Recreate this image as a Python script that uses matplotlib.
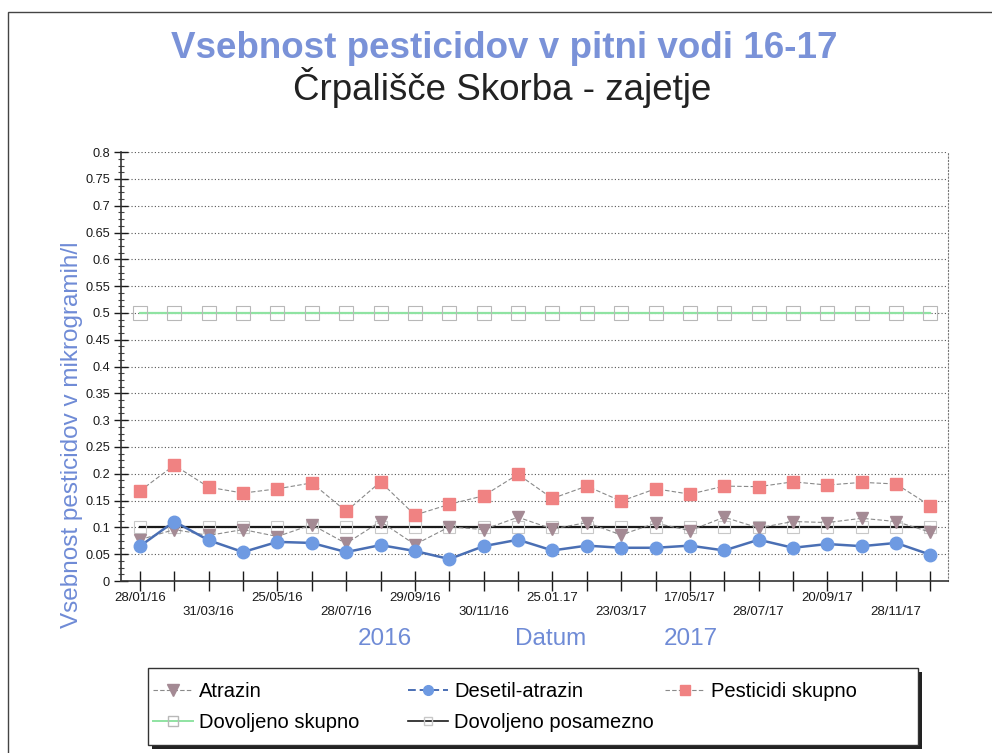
import matplotlib
matplotlib.use("Agg")
import matplotlib.pyplot as plt
from matplotlib.patches import Rectangle
from matplotlib.lines import Line2D
from matplotlib.ticker import MultipleLocator

plt.rcParams['font.family'] = ['Liberation Sans', 'DejaVu Sans']

# sampling dates (every other one is labelled on the axis)
tick_labels = ['28/01/16', '31/03/16', '25/05/16', '28/07/16', '29/09/16', '30/11/16',
               '25.01.17', '23/03/17', '17/05/17', '28/07/17', '20/09/17', '28/11/17']

atrazin = [0.077, 0.096, 0.085, 0.096, 0.083, 0.105, 0.070, 0.111, 0.068, 0.101, 0.096, 0.119,
           0.097, 0.109, 0.086, 0.108, 0.094, 0.119, 0.099, 0.111, 0.109, 0.117, 0.111, 0.091]
desetil = [0.065, 0.111, 0.076, 0.054, 0.073, 0.071, 0.054, 0.067, 0.056, 0.041, 0.065, 0.077,
           0.057, 0.066, 0.062, 0.062, 0.066, 0.057, 0.077, 0.062, 0.069, 0.065, 0.071, 0.049]
skupno = [0.168, 0.216, 0.175, 0.164, 0.172, 0.183, 0.130, 0.185, 0.123, 0.143, 0.159, 0.199,
          0.154, 0.177, 0.149, 0.172, 0.162, 0.177, 0.176, 0.185, 0.179, 0.184, 0.181, 0.140]
dov_skupno = [0.5] * 24
dov_posamezno = [0.1] * 24

x = list(range(len(atrazin)))
blue_txt = '#6f8bd6'

fig = plt.figure(figsize=(9.92, 7.53), dpi=100)
ax = fig.add_axes([0.122, 0.2284, 0.834, 0.5696])

# dotted grid drawn first so the series sit on top
for v in [i * 0.05 for i in range(1, 17)]:
    ax.axhline(v, color='#555555', lw=0.8, ls=(0, (1, 2)), zorder=0)

ax.plot(x, dov_skupno, color='#8fe3a2', lw=1.6, marker='s', ms=10, mfc='none',
        mec='#b8b8b8', mew=0.8, zorder=2)
ax.plot(x, dov_posamezno, color='#1a1a1a', lw=1.6, marker='s', ms=8, mfc='none',
        mec='#c8c8c8', mew=0.8, zorder=2)
ax.plot(x, atrazin, color='#8a8a8a', lw=0.8, ls=(0, (4, 2)), marker='v', ms=9,
        mfc='#a48a94', mec='#a48a94', zorder=3)
ax.plot(x, skupno, color='#8a8a8a', lw=0.8, ls=(0, (4, 2)), marker='s', ms=9,
        mfc='#f08282', mec='#f08282', zorder=3)
ax.plot(x, desetil, color='#4a6fb4', lw=1.8, marker='o', ms=9,
        mfc='#6e9ae2', mec='#6e9ae2', zorder=4)

ax.set_xlim(-0.55, 23.52)
ax.set_ylim(0, 0.8)
ax.yaxis.set_major_locator(MultipleLocator(0.05))
ax.yaxis.set_minor_locator(MultipleLocator(0.0125))
ax.yaxis.set_major_formatter(plt.FuncFormatter(lambda v, p: '%g' % round(v, 2)))

ax.set_xticks(x)
labs = []
for i in x:
    if i % 2:
        labs.append('')
    else:
        k = i // 2
        labs.append(tick_labels[k] if k % 2 == 0 else '\n' + tick_labels[k])
ax.set_xticklabels(labs)

ax.tick_params(axis='x', direction='inout', length=14, width=1.0, labelsize=9.5,
               colors='#1a1a1a', pad=1)
ax.tick_params(axis='y', which='major', direction='inout', length=10, width=1.0,
               labelsize=9.2, colors='#1a1a1a', pad=3)
ax.tick_params(axis='y', which='minor', direction='inout', length=5, width=0.8,
               colors='#444444')

ax.spines['top'].set_visible(False)
ax.spines['right'].set_linestyle((0, (1, 2)))
ax.spines['right'].set_color('#777777')
ax.spines['left'].set_color('#333333')
ax.spines['bottom'].set_color('#333333')
ax.spines['left'].set_linewidth(1.2)
ax.spines['bottom'].set_linewidth(1.2)

# titles
fig.text(0.508, 0.923, 'Vsebnost pesticidov v pitni vodi 16-17', ha='center', va='baseline',
         fontsize=26.5, fontweight='bold', color='#7a92d8')
fig.text(0.506, 0.867, 'Črpališče Skorba - zajetje', ha='center', va='baseline',
         fontsize=26.5, color='#222222')

fig.text(0.073, 0.422, 'Vsebnost pesticidov v mikrogramih/l', rotation=90, ha='center',
         va='center', fontsize=17.5, color=blue_txt)
fig.text(0.388, 0.144, '2016', ha='center', va='baseline', fontsize=17.5, color=blue_txt)
fig.text(0.555, 0.144, 'Datum', ha='center', va='baseline', fontsize=17.5, color=blue_txt)
fig.text(0.696, 0.144, '2017', ha='center', va='baseline', fontsize=17.5, color=blue_txt)

# outer frame
fig.patches.append(Rectangle((0.008, -0.1), 1.2, 1.084, transform=fig.transFigure,
                             fill=False, ec='#444444', lw=1.0))

# legend box with shadow
fig.patches.append(Rectangle((0.153, 0.005), 0.776, 0.103, transform=fig.transFigure,
                             fc='#222222', ec='none'))
fig.patches.append(Rectangle((0.149, 0.01), 0.776, 0.103, transform=fig.transFigure,
                             fc='white', ec='#333333', lw=1.0))

h_atr = Line2D([], [], color='#8a8a8a', lw=0.8, ls=(0, (4, 2)), marker='v', ms=8,
               mfc='#a48a94', mec='#a48a94')
h_dsk = Line2D([], [], color='#8fe3a2', lw=1.4, marker='s', ms=7, mfc='none', mec='#b8b8b8')
h_des = Line2D([], [], color='#4a6fb4', lw=1.4, ls=(0, (4, 2)), marker='o', ms=7,
               mfc='#6e9ae2', mec='#6e9ae2')
h_dpo = Line2D([], [], color='#1a1a1a', lw=1.2, marker='s', ms=6, mfc='none', mec='#c8c8c8')
h_pes = Line2D([], [], color='#8a8a8a', lw=0.8, ls=(0, (4, 2)), marker='s', ms=7,
               mfc='#f08282', mec='#f08282')

# three legend columns with fixed positions, like the original
columns = [([h_atr, h_dsk], ['Atrazin', 'Dovoljeno skupno'], 0.154),
           ([h_des, h_dpo], ['Desetil-atrazin', 'Dovoljeno posamezno'], 0.411),
           ([h_pes], ['Pesticidi skupno'], 0.670)]
for hs, ns, x0 in columns:
    leg = fig.legend(hs, ns, loc='upper left', bbox_to_anchor=(x0, 0.094),
                     frameon=False, fontsize=14.5, handlelength=2.0, labelspacing=0.6,
                     handletextpad=0.3, borderpad=0, borderaxespad=0)

fig.savefig('out.png', dpi=100)
